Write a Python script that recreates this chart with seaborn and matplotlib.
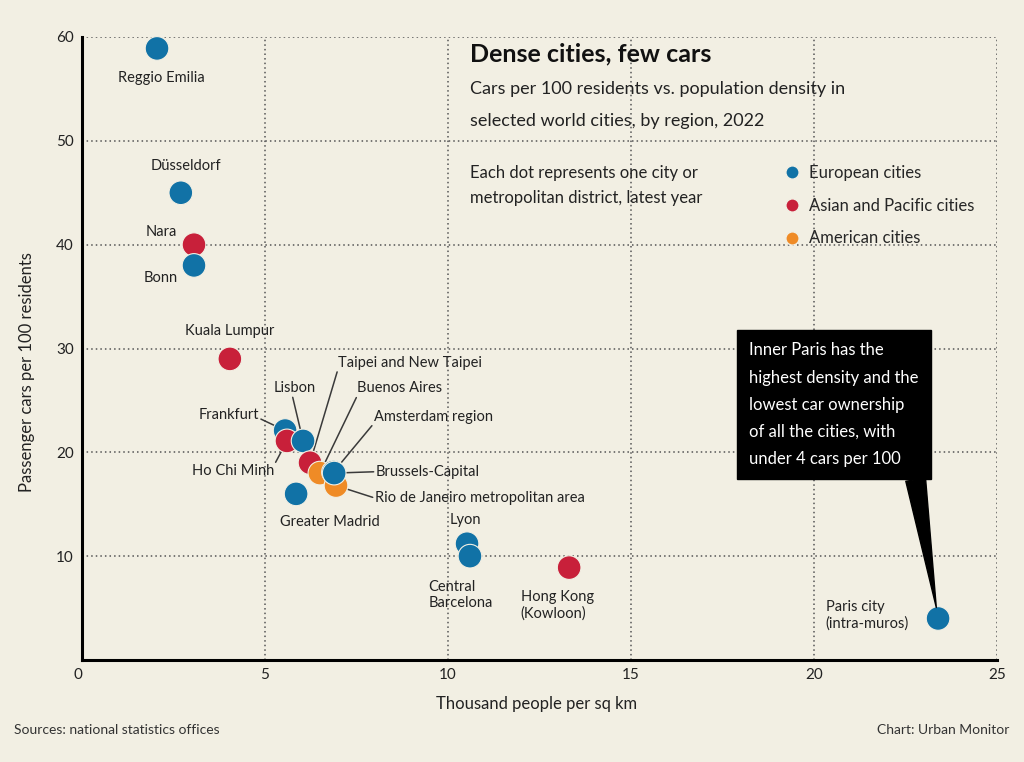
import matplotlib
matplotlib.use("Agg")
import matplotlib.pyplot as plt
from matplotlib.lines import Line2D
import pandas as pd
import seaborn as sns

# ---- data ----
CITIES = ["Reggio Emilia", "Düsseldorf", "Nara", "Bonn", "Kuala Lumpur",
          "Frankfurt", "Ho Chi Minh", "Lisbon", "Taipei and New Taipei",
          "Buenos Aires", "Rio de Janeiro metropolitan area", "Amsterdam region",
          "Brussels-Capital", "Greater Madrid", "Lyon", "Central\nBarcelona",
          "Hong Kong\n(Kowloon)", "Paris city\n(intra-muros)"]
REGIONS = ["Europe", "Europe", "Asia", "Europe", "Asia",
           "Europe", "Asia", "Europe", "Asia",
           "Americas", "Americas", "Europe",
           "Europe", "Europe", "Europe", "Europe",
           "Asia", "Europe"]
DENSITY = [2.05, 2.70, 3.06, 3.06, 4.04,
           5.55, 5.60, 6.04, 6.23,
           6.50, 6.94, 6.87,
           6.89, 5.85, 10.52, 10.60,
           13.31, 23.39]          # '000 people per sq km
CARS = [58.9, 45.0, 40.0, 38.0, 29.0,
        22.1, 21.1, 21.1, 19.0,
        18.0, 16.8, 18.1,
        18.0, 16.0, 11.2, 10.0,
        8.9, 4.0]                 # cars per 100 residents

REGION_ORDER = ["Europe", "Asia", "Americas"]
LEGEND_LABELS = ["European cities", "Asian and Pacific cities", "American cities"]
X_TICKS = [0, 5, 10, 15, 20, 25]
Y_TICKS = [10, 20, 30, 40, 50, 60]

TITLE = "Dense cities, few cars"
SUBTITLE = ["Cars per 100 residents vs. population density in",
            "selected world cities, by region, 2022"]
NOTE = ["Each dot represents one city or",
        "metropolitan district, latest year"]
CALLOUT = ("Inner Paris has the\nhighest density and the\nlowest car ownership\n"
           "of all the cities, with\nunder 4 cars per 100")
Y_LABEL = "Passenger cars per 100 residents"
X_LABEL = "Thousand people per sq km"
SOURCE = "Sources: national statistics offices"
CREDIT = "Chart: Urban Monitor"

# label placement: (dx pt, dy pt, ha, leader relpos or None)
LABEL_LAYOUT = [(3, -21, "center", None), (4, 19, "center", None),
                (-12, 9, "right", None), (-12, -9, "right", None),
                (0, 20, "center", None),
                (-19, 11, "right", (1, 0.3)), (-9, -22, "right", (1, 1)),
                (-6, 38, "center", (0.44, 0)), (20, 72, "left", (0, 0)),
                (27, 61, "left", (0, 0)), (28, -9, "left", (0, 0.5)),
                (29, 40, "left", (0, 0)),
                (30, 1, "left", (0, 0.5)), (24, -20, "center", None),
                (-1, 17, "center", None), (-30, -28, "left", None),
                (-35, -27, "left", None), (-81, 2, "left", None)]

BG = "#f2efe3"
PALETTE = {"Europe": "#1172a6", "Asia": "#c8203a", "Americas": "#ef8b26"}

sns.set_theme(style="white", rc={"axes.facecolor": BG, "figure.facecolor": BG})
plt.rcParams["font.family"] = ["Lato", "DejaVu Sans"]

df = pd.DataFrame({"city": CITIES, "region": REGIONS,
                   "density": DENSITY, "cars": CARS})

fig = plt.figure(figsize=(10.24, 7.62), dpi=100)
ax = fig.add_axes([82 / 1024, 102 / 762, 915 / 1024, 623 / 762])

sns.scatterplot(data=df, x="density", y="cars", hue="region",
                hue_order=REGION_ORDER, palette=PALETTE, s=290,
                edgecolor=BG, linewidth=0.8, legend=False, ax=ax,
                clip_on=False, zorder=3)

ax.set_xlim(0, 25)
ax.set_ylim(0, 60)
ax.set_xticks(X_TICKS)
ax.set_yticks(Y_TICKS)
ax.set_xlabel("")
ax.set_ylabel("")
ax.grid(True, linestyle=(0, (1, 2)), color="#555555", linewidth=1.1)
sns.despine(ax=ax)
for side in ["left", "bottom"]:
    ax.spines[side].set_linewidth(2.2)
    ax.spines[side].set_color("black")
ax.tick_params(length=0, labelsize=11, pad=6, labelcolor="#222222")
ax.get_xticklabels()[0].set_ha("right")

# point labels with leader lines
for (name, x, y), (dx, dy, ha, rel) in zip(zip(CITIES, DENSITY, CARS), LABEL_LAYOUT):
    arrow = None
    if rel is not None:
        arrow = dict(arrowstyle="-", color="#3a3a3a", lw=1.1, relpos=rel,
                     shrinkA=0, shrinkB=8.5)
    ax.annotate(name, (x, y), xytext=(dx, dy), textcoords="offset points",
                ha=ha, va="center", fontsize=10.5, color="#222222",
                arrowprops=arrow, zorder=2,
                bbox=dict(boxstyle="square,pad=0.15", fc="none", ec="none"))

# callout for the outlier
ax.annotate(CALLOUT, (DENSITY[-1], CARS[-1]), xytext=(-75, 154),
            textcoords="offset points", ha="center", va="center", ma="left",
            color="white", fontsize=12, linespacing=1.85,
            bbox=dict(boxstyle="square,pad=0.75", fc="black", ec="black"),
            arrowprops=dict(arrowstyle="wedge,tail_width=1.2,shrink_factor=0.5",
                            fc="black", ec="black", relpos=(0.97, 0.0),
                            shrinkA=0, shrinkB=8),
            zorder=5)

# legend
handles = [Line2D([], [], marker="o", ls="", markersize=9.5,
                  markerfacecolor=PALETTE[r], markeredgecolor=BG)
           for r in REGION_ORDER]
fig.legend(handles, LEGEND_LABELS, loc="upper left",
           bbox_to_anchor=(784 / 1024, 1 - 165 / 762), frameon=False,
           fontsize=12, handlelength=1.0, handletextpad=0.5,
           labelspacing=1.0, borderpad=0, borderaxespad=0)

# titles and notes
fig.text(470 / 1024, 1 - 54 / 762, TITLE, fontsize=18, fontweight="bold",
         va="center", ha="left", color="#111111")
for i, line in enumerate(SUBTITLE):
    fig.text(470 / 1024, 1 - (89 + 32 * i) / 762, line, fontsize=13,
             va="center", ha="left", color="#222222")
for i, line in enumerate(NOTE):
    fig.text(470 / 1024, 1 - (173 + 25 * i) / 762, line, fontsize=12,
             va="center", ha="left", color="#222222")

fig.text(27 / 1024, 1 - 372 / 762, Y_LABEL, rotation=90, fontsize=12,
         va="center", ha="center", color="#222222")
fig.text(537 / 1024, 1 - 704 / 762, X_LABEL, fontsize=12,
         va="center", ha="center", color="#222222")
fig.text(14 / 1024, 1 - 730 / 762, SOURCE, fontsize=10,
         va="center", ha="left", color="#333333")
fig.text(1009 / 1024, 1 - 730 / 762, CREDIT, fontsize=10,
         va="center", ha="right", color="#333333")

fig.savefig("out.png", dpi=100, facecolor=BG)
